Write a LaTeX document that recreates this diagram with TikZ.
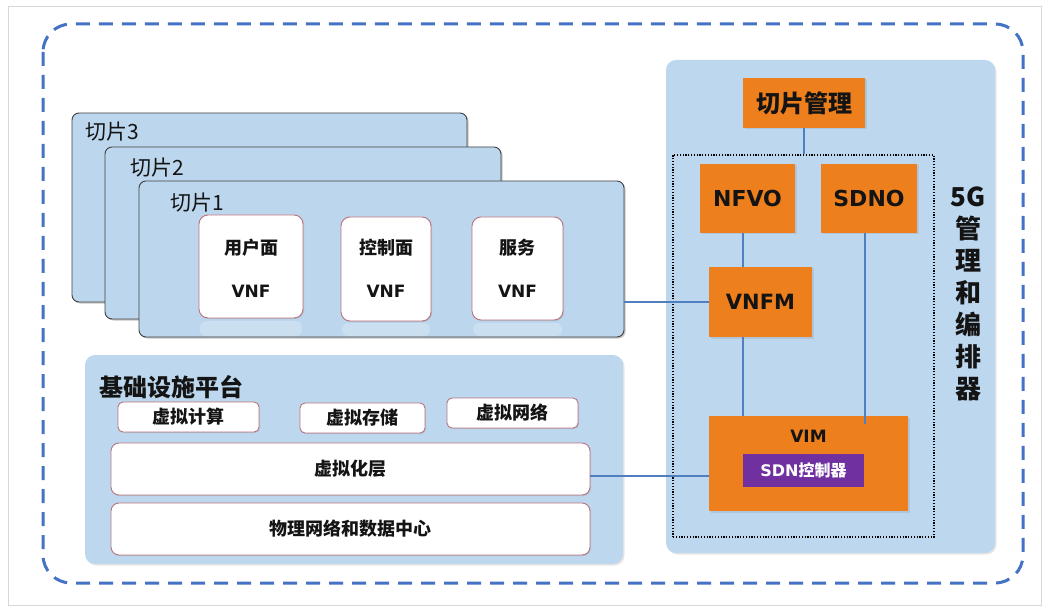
\documentclass[tikz,border=0pt]{standalone}
\usepackage{fontspec}
\newfontfamily\cjk{Noto Sans CJK SC}
\newfontfamily\dv{DejaVu Sans}
\usetikzlibrary{shadows}
\definecolor{panelblue}{RGB}{189,215,238}
\definecolor{slicefill}{RGB}{188,214,237}
\definecolor{orng}{RGB}{238,127,29}
\definecolor{purp}{RGB}{112,48,160}
\definecolor{lineblue}{RGB}{79,127,191}
\definecolor{dashblue}{RGB}{68,114,196}
\definecolor{pinkedge}{RGB}{185,115,125}
\definecolor{framegray}{RGB}{215,215,215}
\definecolor{txt}{RGB}{20,20,20}
\begin{document}
\begin{tikzpicture}[x=1pt,y=-1pt,
  panel/.style={fill=panelblue, rounded corners=10pt, inner sep=0pt,
    drop shadow={shadow xshift=1.5pt, shadow yshift=-1.5pt, opacity=0.2}},
  slicebox/.style={draw=black!75, line width=0.9pt, fill=slicefill, rounded corners=7pt, inner sep=0pt,
    drop shadow={shadow xshift=1.5pt, shadow yshift=-1.5pt, opacity=0.45}},
  wbox/.style={draw=pinkedge, line width=0.9pt, fill=white, rounded corners=9pt, inner sep=0pt,
    drop shadow={shadow xshift=1pt, shadow yshift=-1pt, opacity=0.25}},
  obox/.style={fill=orng, inner sep=0pt,
    drop shadow={shadow xshift=1.5pt, shadow yshift=-1.5pt, opacity=0.2}},
  conn/.style={draw=lineblue, line width=2.4pt},
  slicelabel/.style={anchor=west, inner sep=0pt, text=txt, font={\cjk\fontsize{21}{24}\selectfont}},
  vnftext/.style={text=txt, align=center, font={\cjk\bfseries\fontsize{18}{43}\selectfont}},
  infratext/.style={text=txt, font={\cjk\bfseries\fontsize{18}{20}\selectfont}},
  latinbig/.style={text=txt, font={\dv\bfseries\fontsize{22}{24}\selectfont}},
]
\useasboundingbox (0,0) rectangle (1048,609);
\draw[framegray, line width=0.8pt] (8,6) rectangle (1041,605);
\draw[dashblue, line width=3pt, dash pattern=on 14pt off 9pt, rounded corners=28pt] (43,24) rectangle (1023,583);

% ---------- slices ----------
\node[slicebox, minimum width=395pt, minimum height=189pt] (slice3) at (269.5,207.5) {};
\node[slicelabel] (slice3l) at (85,132) {切片3};
\node[slicebox, minimum width=396pt, minimum height=172pt] (slice2) at (303,233) {};
\node[slicelabel] (slice2l) at (130,168) {切片2};
\node[slicebox, minimum width=485pt, minimum height=156pt] (slice1) at (381.5,259) {};
\node[slicelabel] (slice1l) at (170,203) {切片1};

% reflections
\fill[white, opacity=0.22, rounded corners=6pt] (200,321) rectangle (302,336);
\fill[white, opacity=0.22, rounded corners=6pt] (342,323) rectangle (430,336);
\fill[white, opacity=0.22, rounded corners=6pt] (473,323) rectangle (562,336);

\node[wbox, minimum width=104pt, minimum height=103pt] (upf) at (251,266.5) {};
\node[vnftext] (upft) at (251,268) {用户面\\{\dv\bfseries\fontsize{17}{43}\selectfont VNF}};
\node[wbox, minimum width=90pt, minimum height=104pt] (cpf) at (386,269) {};
\node[vnftext] (cpft) at (386,268.5) {控制面\\{\dv\bfseries\fontsize{17}{43}\selectfont VNF}};
\node[wbox, minimum width=91pt, minimum height=103pt] (svc) at (517.5,268.5) {};
\node[vnftext] (svct) at (517.5,268.5) {服务\\{\dv\bfseries\fontsize{17}{43}\selectfont VNF}};

% ---------- infrastructure ----------
\node[panel, minimum width=538pt, minimum height=209pt] (infra) at (354,459.5) {};
\node[anchor=west, inner sep=0pt, text=txt, font={\cjk\bfseries\fontsize{24}{26}\selectfont}] (infral) at (99,387) {基础设施平台};
\node[wbox, minimum width=141pt, minimum height=30pt, rounded corners=5pt, infratext] (vcomp) at (188.5,417) {虚拟计算};
\node[wbox, minimum width=125pt, minimum height=30pt, rounded corners=5pt, infratext] (vstor) at (362.5,418) {虚拟存储};
\node[wbox, minimum width=131pt, minimum height=30pt, rounded corners=5pt, infratext] (vnet) at (512.5,413) {虚拟网络};
\node[wbox, minimum width=479pt, minimum height=52pt, rounded corners=8pt, infratext] (virt) at (350.5,469) {虚拟化层};
\node[wbox, minimum width=479pt, minimum height=52pt, rounded corners=8pt, infratext] (phys) at (350.5,529) {物理网络和数据中心};

% ---------- management ----------
\node[panel, minimum width=329pt, minimum height=493pt] (mano) at (830.5,306.5) {};
\node[obox, minimum width=122pt, minimum height=50pt, text=txt, font={\cjk\bfseries\fontsize{24}{26}\selectfont}] (slmgmt) at (804,103) {切片管理};
\node[draw=black, line width=1.4pt, dash pattern=on 1.2pt off 1.6pt, minimum width=261pt, minimum height=382pt, inner sep=0pt] (dotted) at (803.5,346) {};
\node[obox, minimum width=95pt, minimum height=69pt, latinbig] (nfvo) at (747.5,198.5) {NFVO};
\node[obox, minimum width=96pt, minimum height=69pt, latinbig] (sdno) at (869,198.5) {SDNO};
\node[obox, minimum width=103pt, minimum height=70pt, text=txt, font={\dv\bfseries\fontsize{21}{24}\selectfont}] (vnfm) at (760.5,302) {VNFM};
\node[obox, minimum width=199pt, minimum height=95pt] (vim) at (808.5,463.5) {};
\node[text=txt, inner sep=0pt, font={\dv\bfseries\fontsize{17}{20}\selectfont}] (viml) at (808.5,436) {VIM};
\node[fill=purp, minimum width=121pt, minimum height=33pt, inner sep=0pt, text=white, font={\bfseries\fontsize{16}{18}\selectfont}] (sdnc) at (803.5,470.5) {{\dv SDN}{\cjk 控制器}};
\node[text=txt, align=center, inner sep=0pt, font={\cjk\bfseries\fontsize{26}{32}\selectfont}] (mlabel) at (968,294) {5G\\管\\理\\和\\编\\排\\器};

% ---------- connectors ----------
\coordinate (lx) at (743,0);
\coordinate (rx) at (865,0);
\coordinate (ly) at (0,476);
\draw[conn] (slmgmt.south) -- (dotted.north -| slmgmt.south);
\draw[conn] (nfvo.south -| lx) -- (vnfm.north -| lx);
\draw[conn] (vnfm.south -| lx) -- (vim.north -| lx);
\draw[conn] (sdno.south -| rx) -- ([yshift=-8pt]vim.north -| rx);
\draw[conn] (slice1.east |- vnfm.west) -- (vnfm.west);
\draw[conn] (virt.east |- ly) -- (vim.west |- ly);
\end{tikzpicture}
\end{document}
